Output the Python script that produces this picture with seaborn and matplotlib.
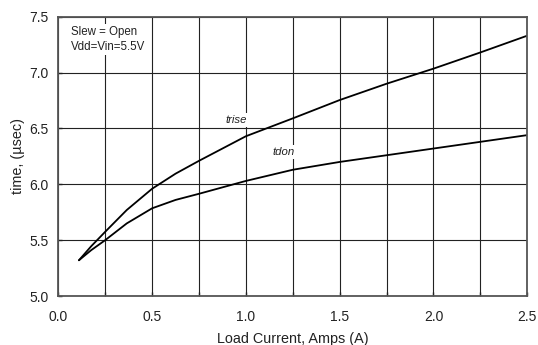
import matplotlib
matplotlib.use("Agg")
import matplotlib.pyplot as plt
import seaborn as sns
import pandas as pd
import numpy as np
from matplotlib.ticker import MultipleLocator

current = [0.11, 0.175, 0.25, 0.365, 0.5, 0.625, 0.75, 1.0, 1.25, 1.5, 1.75, 2.0, 2.25, 2.5]
trise = [5.32, 5.445, 5.575, 5.77, 5.96, 6.095, 6.21, 6.43, 6.59, 6.754, 6.90, 7.035, 7.18, 7.33]
tdon = [5.32, 5.41, 5.50, 5.65, 5.785, 5.86, 5.915, 6.03, 6.13, 6.20, 6.26, 6.32, 6.38, 6.44]

df = pd.concat([
    pd.DataFrame({"current": current, "time": trise, "series": "trise"}),
    pd.DataFrame({"current": current, "time": tdon, "series": "tdon"}),
])

sns.set_theme(style="white")
plt.rcParams['font.family'] = ['Liberation Sans', 'DejaVu Sans']

fig = plt.figure(figsize=(5.38, 3.45), dpi=100)
ax = fig.add_axes([0.1084, 0.142, 0.8716, 0.8096])

sns.lineplot(data=df, x="current", y="time", units="series", estimator=None,
             color="black", lw=1.3, ax=ax, legend=False, sort=False)

ax.set_xlim(0, 2.5)
ax.set_ylim(5.0, 7.5)
ax.xaxis.set_major_locator(MultipleLocator(0.5))
ax.xaxis.set_minor_locator(MultipleLocator(0.25))
ax.yaxis.set_major_locator(MultipleLocator(0.5))
ax.xaxis.set_major_formatter(matplotlib.ticker.FormatStrFormatter('%.1f'))
ax.yaxis.set_major_formatter(matplotlib.ticker.FormatStrFormatter('%.1f'))
ax.grid(True, which='both', axis='x', color='#222222', lw=0.8)
ax.grid(True, which='major', axis='y', color='#222222', lw=0.8)
ax.set_axisbelow(True)
for s in ax.spines.values():
    s.set_color('#555555')
    s.set_linewidth(1.3)
ax.tick_params(axis='both', which='major', direction='in', length=3, width=1, color='#222222',
               labelsize=10, colors='#222222')
ax.tick_params(axis='y', which='major', pad=7)
ax.tick_params(axis='x', which='major', pad=10)
ax.tick_params(axis='x', which='minor', direction='in', length=3, width=1, color='#222222', bottom=True)
ax.tick_params(axis='both', which='major', left=True, bottom=True)

ax.set_xlabel("Load Current, Amps (A)", fontsize=10.4, labelpad=6, color='#222222')
ax.set_ylabel("time, (µsec)", fontsize=10.4, labelpad=3, color='#222222')

ax.text(0.07, 7.295, "Slew = Open\nVdd=Vin=5.5V", fontsize=8.3, va='center', ha='left',
        linespacing=1.25, color='#222222',
        bbox=dict(facecolor='white', edgecolor='none', pad=2))
ax.text(0.95, 6.575, "trise", fontsize=8.2, style='italic', ha='center', va='center', color='#222222',
        bbox=dict(facecolor='white', edgecolor='none', pad=1.5))
ax.text(1.20, 6.285, "tdon", fontsize=8.2, style='italic', ha='center', va='center', color='#222222',
        bbox=dict(facecolor='white', edgecolor='none', pad=1.5))

fig.savefig("out.png", dpi=100)
